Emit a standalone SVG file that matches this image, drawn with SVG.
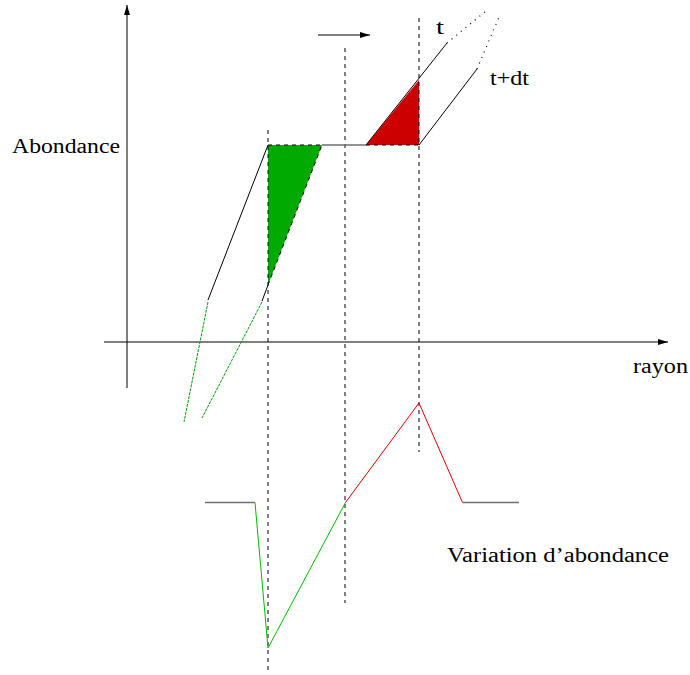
<svg xmlns="http://www.w3.org/2000/svg" width="690" height="675" viewBox="0 0 690 675">
<style>
text{font-family:"Liberation Serif","Times New Roman",serif;font-size:20px;fill:#000}
.ax{stroke:#000;stroke-width:1;fill:none}
.blk{stroke:#000;stroke-width:1;fill:none}
.dash{stroke:#000;stroke-width:1;stroke-dasharray:4,4;fill:none}
.dot{stroke:#000;stroke-width:1.2;stroke-dasharray:1,5;fill:none}
.gdash{stroke:#00a000;stroke-width:1;stroke-dasharray:3,1;fill:none}
.gray{stroke:#707070;stroke-width:1.5;fill:none}
</style>
<defs>
<marker id="ah" markerWidth="10" markerHeight="8" refX="10" refY="4" orient="auto" markerUnits="userSpaceOnUse">
<path d="M0,1 L10,4 L0,7 Z" fill="#000"/>
</marker>
</defs>
<g id="axes">
<line class="ax" x1="127" y1="388" x2="127" y2="5" marker-end="url(#ah)"/>
<line class="ax" x1="104" y1="342" x2="668" y2="342" marker-end="url(#ah)"/>
<line class="ax" x1="318" y1="35" x2="370" y2="35" marker-end="url(#ah)"/>
</g>
<g id="fills">
<polygon points="268,145 322,145 268,285" fill="#00aa00"/>
<polygon points="366,145 419,80 419,145" fill="#cc0000"/>
</g>
<g id="connectors">
<line class="dash" x1="268" y1="130" x2="268" y2="670"/>
<line class="dash" x1="345" y1="48" x2="345" y2="603"/>
<line class="dash" x1="419" y1="18" x2="419" y2="452"/>
<polyline class="blk" points="208,300 268,145"/>
<line class="dash" x1="268" y1="145" x2="322" y2="145"/>
<line class="gray" x1="322" y1="145" x2="366" y2="145"/>
<line class="dash" x1="366" y1="145" x2="419" y2="145"/>
<polyline class="blk" points="366,145 447,43"/>
<line class="dot" x1="447" y1="43" x2="486" y2="11"/>
<line class="gdash" x1="208" y1="302" x2="184" y2="422"/>
<polyline class="dash" points="268,285 322,145"/>
<polyline class="blk" points="262,301 268,285"/>
<polyline class="blk" points="419,145 477,69"/>
<line class="dot" x1="477" y1="69" x2="499" y2="17"/>
<line class="gdash" x1="262" y1="302" x2="202" y2="418"/>
<line class="gray" x1="205" y1="502.5" x2="255" y2="502.5"/>
<polyline points="255,502.5 268,648 345.5,502.5" fill="none" stroke="#00bb00" stroke-width="1"/>
<polyline points="345.5,502.5 419,403 462.5,502.5" fill="none" stroke="#dd0000" stroke-width="1"/>
<line class="gray" x1="462.5" y1="502.5" x2="519" y2="502.5"/>
</g>
<g id="labels">
<text x="12" y="153" textLength="108" lengthAdjust="spacingAndGlyphs">Abondance</text>
<text x="436" y="34" textLength="8" lengthAdjust="spacingAndGlyphs">t</text>
<text x="490" y="85" textLength="39" lengthAdjust="spacingAndGlyphs">t+dt</text>
<text x="633" y="373" textLength="55" lengthAdjust="spacingAndGlyphs">rayon</text>
<text x="447" y="562" textLength="222" lengthAdjust="spacingAndGlyphs">Variation d’abondance</text>
</g>
</svg>
